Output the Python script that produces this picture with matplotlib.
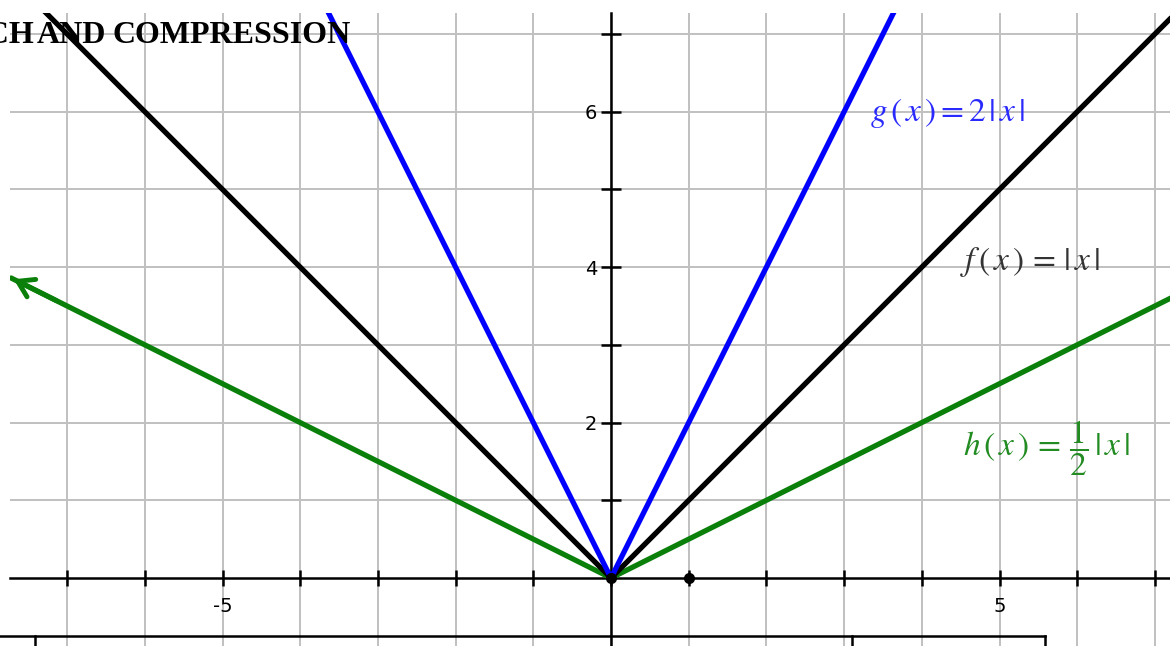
import matplotlib
matplotlib.use('Agg')
import matplotlib.pyplot as plt
from matplotlib.lines import Line2D
import numpy as np

# vertex points of each graph
f_x = [-7.5, 0, 7.5]
f_y = [7.5, 0, 7.5]
g_x = [-3.8, 0, 3.8]
g_y = [7.6, 0, 7.6]
h_x = [-7.72, 0, 7.5]
h_y = [3.86, 0, 3.75]

dot_x = [0, 1]
dot_y = [0, 0]

x_ticks = list(range(-7, 8))
y_ticks = list(range(1, 8))
x_labels = {-5: '-5', 5: '5'}
y_labels = {2: '2', 4: '4', 6: '6'}

BLUE = '#0000ff'
GREEN = '#0a800a'
GRID = '#c0c0c0'

plt.rcParams['mathtext.fontset'] = 'stix'

W, H = 1170, 646
fig = plt.figure(figsize=(W / 100, H / 100), dpi=100)
ax = fig.add_axes([10 / W, 0, 1 - 10 / W, 1 - 13 / H])
ax.set_xlim(-7.735, 7.194)
ax.set_ylim(-0.875, 7.27)

# grid + axes through the origin
ax.set_xticks(x_ticks)
ax.set_yticks(y_ticks)
ax.set_xticklabels([x_labels.get(t, '') for t in x_ticks])
ax.set_yticklabels([y_labels.get(t, '') for t in y_ticks])
for lab in ax.get_xticklabels() + ax.get_yticklabels():
    lab.set_fontfamily('Liberation Sans')
ax.grid(True, color=GRID, lw=1.4)
ax.set_axisbelow(True)
for s in ['top', 'right']:
    ax.spines[s].set_visible(False)
ax.spines['left'].set_position('zero')
ax.spines['bottom'].set_position('zero')
ax.spines['left'].set_linewidth(1.8)
ax.spines['bottom'].set_linewidth(1.8)
ax.tick_params(axis='x', direction='inout', length=12, width=1.8, pad=8, labelsize=14)
ax.tick_params(axis='y', direction='inout', length=14, width=1.8, pad=3, labelsize=14)

# the three graphs
ax.plot(h_x, h_y, color=GREEN, lw=3.8, solid_capstyle='round', zorder=3)
ax.plot(f_x, f_y, color='black', lw=3.8, solid_capstyle='round', zorder=4)
ax.plot(g_x, g_y, color=BLUE, lw=3.8, solid_capstyle='round', zorder=5)

# arrow head on the left end of h
dx = h_x[1] - h_x[0]
dy = h_y[1] - h_y[0]
ax.annotate('', xy=(h_x[0], h_y[0]), xytext=(h_x[0] + 0.08 * dx, h_y[0] + 0.08 * dy),
            arrowprops=dict(arrowstyle='->,head_length=0.55,head_width=0.35', lw=3.5,
                            color=GREEN, mutation_scale=20), zorder=3)

ax.plot(dot_x, dot_y, 'o', color='black', ms=7, zorder=6)

# formula labels
ax.text(3.33, 5.98, r'$g\,(\,x\,)=2\,|\,x\,|$', color='#2a2aff', fontsize=24,
        va='center', ha='left')
ax.text(4.49, 4.07, r'$f\,(\,x\,)\,=\,|\,x\,|$', color='#333333', fontsize=24,
        va='center', ha='left')
ax.text(4.53, 1.67, r'$h\,(\,x\,)\,=\,\dfrac{1}{2}\,|\,x\,|$', color='#228b22', fontsize=24,
        va='center', ha='left')

# title (cut off at the left edge, as in the original; tight word spacing)
title_kw = dict(va='baseline', fontsize=23, fontweight='bold', family='Liberation Serif')
ty = 1 - 43 / H
fig.text(34 / W, ty, 'STRETCH', ha='right', **title_kw)
fig.text(37 / W, ty, 'AND', ha='left', **title_kw)
fig.text(351 / W, ty, 'COMPRESSION', ha='right', **title_kw)

# top border of the table below the graph
yb = 1 - 636 / H
fig.add_artist(Line2D([0, 1045 / W], [yb, yb], color='black', lw=1.8))
for px in [35, 852, 1045]:
    fig.add_artist(Line2D([px / W, px / W], [0, yb], color='black', lw=1.8))

fig.savefig('out.png', dpi=100)
